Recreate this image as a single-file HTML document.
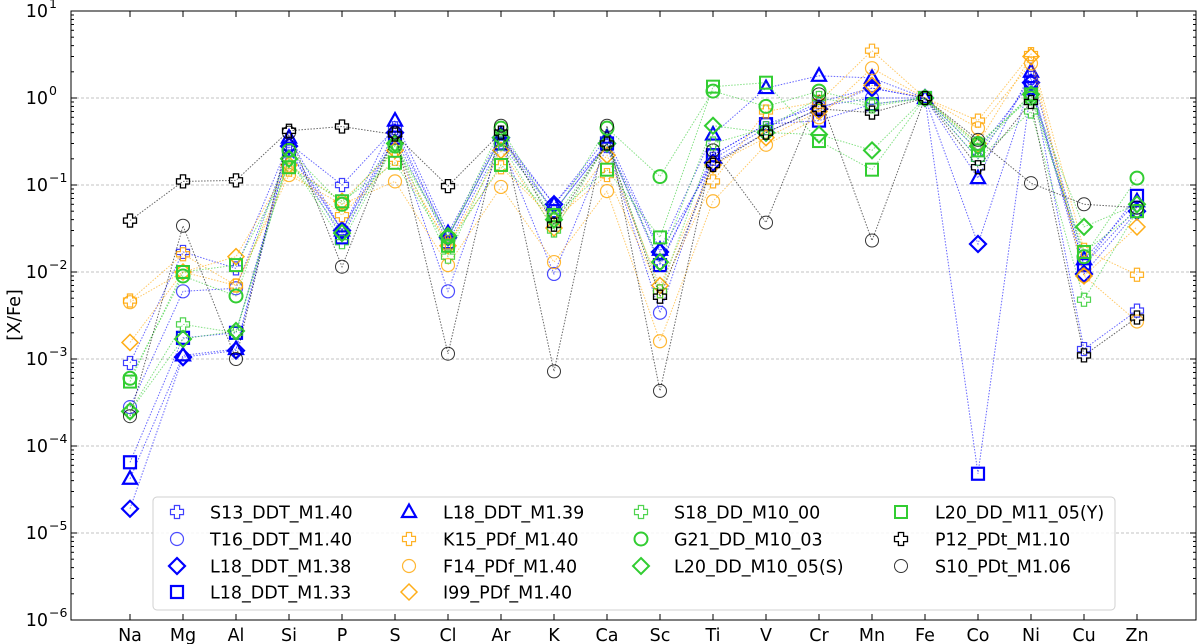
<!DOCTYPE html>
<html><head><meta charset="utf-8"><style>
html,body{margin:0;padding:0;background:#fff;}
svg{display:block;font-family:"DejaVu Sans","Liberation Sans",sans-serif;}
</style></head><body>
<svg id="chart" width="1200" height="644" viewBox="0 0 1200 644"></svg>
<script>
const categories=["Na","Mg","Al","Si","P","S","Cl","Ar","K","Ca","Sc","Ti","V","Cr","Mn","Fe","Co","Ni","Cu","Zn"];
const seriesNames=["S13_DDT_M1.40","T16_DDT_M1.40","L18_DDT_M1.38","L18_DDT_M1.33","L18_DDT_M1.39","K15_PDf_M1.40","F14_PDf_M1.40","I99_PDf_M1.40","S18_DD_M10_00","G21_DD_M10_03","L20_DD_M10_05(S)","L20_DD_M11_05(Y)","P12_PDt_M1.10","S10_PDt_M1.06"];
const s13=[9e-4,1.7e-2,1.1e-2,0.3,0.1,0.45,0.025,0.35,0.05,0.3,0.013,0.2,0.45,0.9,1.3,1,0.2,1.7,1.3e-3,3.6e-3];
const t16=[2.8e-4,6e-3,6.5e-3,0.25,0.03,0.35,0.006,0.3,0.0095,0.28,0.0034,0.22,0.5,0.8,1.0,1,0.25,1.5,0.012,0.055];
const l18a=[1.9e-5,1.05e-3,1.25e-3,0.28,0.03,0.4,0.025,0.35,0.06,0.3,0.017,0.18,0.4,0.75,1.3,1,0.021,1.5,0.0095,0.05];
const l18b=[6.5e-5,1.75e-3,2e-3,0.25,0.025,0.35,0.022,0.3,0.05,0.3,0.012,0.22,0.5,0.55,0.85,1,4.8e-5,1.3,0.012,0.075];
const l18c=[4.2e-5,1.1e-3,1.3e-3,0.35,0.03,0.55,0.028,0.38,0.06,0.35,0.018,0.38,1.3,1.8,1.7,1,0.12,2.0,0.014,0.065];
const k15=[4.7e-3,1.6e-2,7e-3,0.15,0.045,0.2,0.022,0.16,0.04,0.13,0.006,0.11,0.7,0.9,3.5,1,0.55,3.2,0.018,0.0093];
const f14=[4.5e-3,1e-2,7e-3,0.13,0.06,0.11,0.012,0.095,0.013,0.085,0.0016,0.065,0.29,0.6,2.2,1,0.45,2.5,0.009,0.0027];
const i99=[1.55e-3,1e-2,1.5e-2,0.17,0.065,0.25,0.02,0.25,0.032,0.22,0.007,0.17,0.35,0.7,1.4,1,0.3,3.0,0.009,0.033];
const s18=[2.5e-4,2.5e-3,2e-3,0.2,0.022,0.3,0.015,0.3,0.03,0.3,0.006,0.3,0.45,1.0,0.8,1,0.2,0.7,0.0048,0.05];
const g21=[6e-4,9e-3,5.3e-3,0.25,0.06,0.28,0.025,0.45,0.045,0.45,0.125,1.2,0.8,1.2,0.85,1,0.3,1.0,0.015,0.12];
const l20s=[2.5e-4,1.7e-3,2.1e-3,0.2,0.028,0.3,0.026,0.35,0.04,0.3,0.013,0.48,0.4,0.38,0.25,1,0.28,1.1,0.033,0.06];
const l20y=[5.5e-4,1e-2,1.2e-2,0.16,0.065,0.18,0.02,0.17,0.045,0.15,0.025,1.35,1.5,0.32,0.15,1,0.25,1.1,0.017,0.05];
const p12=[3.9e-2,1.1e-1,1.13e-1,0.42,0.47,0.38,0.097,0.4,0.035,0.3,0.0052,0.17,0.4,0.75,0.68,1,0.16,0.9,0.0011,0.003];
const s10=[2.2e-4,3.4e-2,1e-3,0.4,0.0115,0.4,0.00115,0.48,0.00072,0.48,0.00043,0.25,0.037,1.1,0.023,1,0.33,0.105,0.06,0.055];
const yTicks=[1,0,-1,-2,-3,-4,-5,-6];

const BLUE="#0000ff",ORG="#ffa500",GRN="#32cd32",BLK="#000";
const seriesData=[s13,t16,l18a,l18b,l18c,k15,f14,i99,s18,g21,l20s,l20y,p12,s10];
const styles=[[BLUE,"plus",1.2,0.75],[BLUE,"circle",1.2,0.7],[BLUE,"diamond",2.2,1],[BLUE,"square",2.2,1],[BLUE,"triangle",2.2,1],
[ORG,"plus",1.2,0.85],[ORG,"circle",1.2,0.8],[ORG,"diamond",1.5,0.9],[GRN,"plus",1.2,0.85],[GRN,"circle",2,1],[GRN,"diamond",2,1],[GRN,"square",2,1],[BLK,"plus",1.3,1],[BLK,"circle",1,0.8]];

const L=71,R=1196,T=11,B=620;
const FS=17.5;
const xs=i=>130+i*53;
const ys=v=>T+(1-Math.log10(v))*(B-T)/7;
const NS="http://www.w3.org/2000/svg";
const svg=document.getElementById("chart");
function mk(tag,attrs,parent){const e=document.createElementNS(NS,tag);for(const k in attrs)e.setAttribute(k,attrs[k]);(parent||svg).appendChild(e);return e;}

const grid=mk("g",{});


for(const t of yTicks){if(t===1||t===-6)continue;const y=ys(Math.pow(10,t));mk("line",{x1:L,x2:R,y1:y,y2:y,stroke:"#b0b0b0","stroke-width":0.8,"stroke-dasharray":"3,2"},grid);}

function marker(g,type,x,y,col,sw,op){
  const a={fill:"none",stroke:col,"stroke-width":sw,"stroke-opacity":op};
  let e;
  if(type==="circle")e=mk("circle",Object.assign({cx:x,cy:y,r:6.5},a),g);
  else if(type==="square")e=mk("rect",Object.assign({x:x-6,y:y-6,width:12,height:12},a),g);
  else if(type==="diamond")e=mk("polygon",Object.assign({points:`${x},${y-8} ${x+8},${y} ${x},${y+8} ${x-8},${y}`},a),g);
  else if(type==="triangle")e=mk("polygon",Object.assign({points:`${x},${y-7.5} ${x+7},${y+5} ${x-7},${y+5}`},a),g);
  else {const w=2.6,h=6.5;e=mk("polygon",Object.assign({points:`${x-w},${y-h} ${x+w},${y-h} ${x+w},${y-w} ${x+h},${y-w} ${x+h},${y+w} ${x+w},${y+w} ${x+w},${y+h} ${x-w},${y+h} ${x-w},${y+w} ${x-h},${y+w} ${x-h},${y-w} ${x-w},${y-w}`},a),g);}
  return e;
}

seriesData.forEach((d,si)=>{
  const [col,type,sw,op]=styles[si];
  const g=mk("g",{});
  
  
  const pts=d.map((v,i)=>xs(i)+","+ys(v)).join(" ");
  mk("polyline",{points:pts,fill:"none",stroke:col,"stroke-width":1,"stroke-dasharray":"1.5,1.5","stroke-opacity":0.6},g);
  d.forEach((v,i)=>{const m=marker(g,type,xs(i),ys(v),col,sw,op);
    
    });
});

const frame=mk("rect",{x:L,y:T,width:R-L,height:B-T,fill:"none",stroke:"#000","stroke-width":1});



const yax=mk("g",{});


for(const t of yTicks){
  const y=ys(Math.pow(10,t));
  mk("line",{x1:L,x2:L+6,y1:y,y2:y,stroke:"#000"},yax);
  mk("line",{x1:R,x2:R-6,y1:y,y2:y,stroke:"#000"},yax);
  if(t>-6)for(let k=2;k<10;k++){const yy=ys(k*Math.pow(10,t-1));mk("line",{x1:L,x2:L+3,y1:yy,y2:yy,stroke:"#000"},yax);mk("line",{x1:R,x2:R-3,y1:yy,y2:yy,stroke:"#000"},yax);}
  const tx=mk("text",{x:48,y:y+6,"text-anchor":"end","font-size":FS,fill:"#000"},yax);
  tx.textContent="10";
  const sup=mk("text",{x:49,y:y-3,"font-size":12.5,fill:"#000"},yax);
  sup.textContent=t<0?"\u2212"+(-t):""+t;
}
const yt=mk("text",{x:0,y:0,"font-size":FS,"text-anchor":"middle",transform:"translate(20,315) rotate(-90)"});
yt.textContent="[X/Fe]";



const xax=mk("g",{});


categories.forEach((c,i)=>{
  const x=xs(i);
  mk("line",{x1:x,x2:x,y1:B,y2:B-6,stroke:"#000"},xax);
  mk("line",{x1:x,x2:x,y1:T,y2:T+6,stroke:"#000"},xax);
  const tx=mk("text",{x:x,y:641,"text-anchor":"middle","font-size":FS,fill:"#000"},xax);
  tx.textContent=c;
});

const lg=mk("g",{});


mk("rect",{x:153,y:497,width:962,height:113,rx:4,fill:"#fff","fill-opacity":0.85,stroke:"#d0d0d0"},lg);
const colMx=[177,409,641,901],colTx=[210,443,674,935],rowY=[512,539,566,592];
const layout=[[0,1,2,3],[4,5,6,7],[8,9,10],[11,12,13]];
layout.forEach((col,ci)=>col.forEach((si,ri)=>{
  const [c,type,sw,op]=styles[si];
  const e=mk("g",{},lg);
  
  
  marker(e,type,colMx[ci],rowY[ri],c,sw,op);
  const tx=mk("text",{x:colTx[ci],y:rowY[ri]+6.5,"font-size":FS,fill:"#000"},e);
  tx.textContent=seriesNames[si];
}));
</script>
</body></html>
